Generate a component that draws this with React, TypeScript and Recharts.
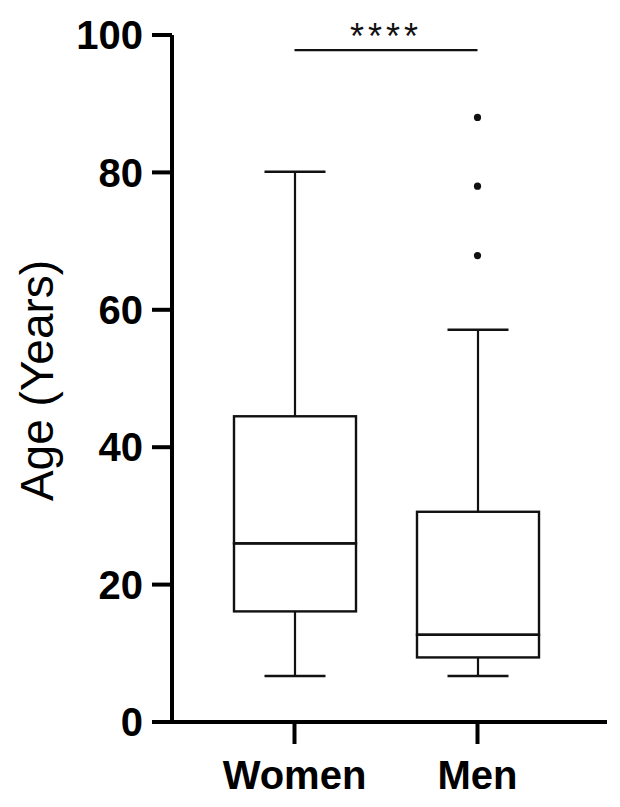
import React from "react";
import {
  ComposedChart,
  Bar,
  Line,
  XAxis,
  YAxis,
  ReferenceLine,
  Label,
} from "recharts";

const groups = ["Women", "Men"];
const mins = [6.7, 6.7];
const q1s = [16.1, 9.4];
const medians = [26.0, 12.7];
const q3s = [44.5, 30.6];
const maxs = [80.1, 57.1];
const menOutliers = [67.9, 78.0, 88.0];
const yTicks = [0, 20, 40, 60, 80, 100];
const sigLevel = 97.8;
const sigText = "****";

const FONT = "'Liberation Sans', Arial, sans-serif";

// stacked segments: base (hidden) -> lower whisker -> lower box -> upper box -> upper whisker
const rows = groups.map((g, i) => ({
  group: g,
  base: mins[i],
  lowWhisker: q1s[i] - mins[i],
  lowBox: medians[i] - q1s[i],
  highBox: q3s[i] - medians[i],
  highWhisker: maxs[i] - q3s[i],
  out0: g === "Men" ? menOutliers[0] : null,
  out1: g === "Men" ? menOutliers[1] : null,
  out2: g === "Men" ? menOutliers[2] : null,
}));

const LowWhisker = (p: any) => {
  const { x, y, width, height } = p;
  const cx = x + width / 2;
  const half = width / 4;
  return (
    <g>
      <line x1={cx} x2={cx} y1={y} y2={y + height} stroke="#111" strokeWidth={2.2} />
      <line x1={cx - half} x2={cx + half} y1={y + height} y2={y + height} stroke="#111" strokeWidth={2.6} />
    </g>
  );
};

const HighWhisker = (p: any) => {
  const { x, y, width, height } = p;
  const cx = x + width / 2;
  const half = width / 4;
  return (
    <g>
      <line x1={cx} x2={cx} y1={y} y2={y + height} stroke="#111" strokeWidth={2.2} />
      <line x1={cx - half} x2={cx + half} y1={y} y2={y} stroke="#111" strokeWidth={2.6} />
    </g>
  );
};

const BoxPart = (p: any) => {
  const { x, y, width, height } = p;
  return <rect x={x} y={y} width={width} height={height} fill="none" stroke="#111" strokeWidth={2.4} />;
};

const outlierDot = (props: any) => {
  const { value, cx, cy, key } = props;
  if (value == null || cx == null || cy == null || isNaN(cy)) return <g key={key} />;
  return <circle key={key} cx={cx} cy={cy} r={3.6} fill="#111" />;
};

export default function App() {
  return (
    <div style={{ position: "absolute", left: 0, top: 0, width: 620, height: 807, background: "#fff" }}>
      <ComposedChart
        width={620}
        height={807}
        data={rows}
        margin={{ top: 35, right: 13, bottom: 0, left: 0 }}
        barSize={122}
      >
        <XAxis
          dataKey="group"
          height={85}
          padding={{ left: 31, right: 38 }}
          tickSize={22}
          tickMargin={17}
          axisLine={{ stroke: "#000", strokeWidth: 4 }}
          tickLine={{ stroke: "#000", strokeWidth: 4 }}
          tick={{ fill: "#000", fontSize: 40, fontWeight: 700, fontFamily: FONT }}
        />
        <YAxis
          domain={[0, 100]}
          ticks={yTicks}
          width={172}
          tickSize={20}
          tickMargin={9}
          axisLine={{ stroke: "#000", strokeWidth: 4 }}
          tickLine={{ stroke: "#000", strokeWidth: 4 }}
          tick={{ fill: "#000", fontSize: 40, fontWeight: 700, fontFamily: FONT }}
        >
          <Label
            content={(props: any) => {
              const vb = props.viewBox || { x: 0, y: 35, height: 687 };
              const cx = vb.x + 37;
              const cy = vb.y + vb.height / 2 + 2;
              return (
                <text
                  x={cx}
                  y={cy}
                  transform={`rotate(-90, ${cx}, ${cy})`}
                  textAnchor="middle"
                  dominantBaseline="central"
                  fontSize={46}
                  fontFamily={FONT}
                  fill="#000"
                >
                  Age (Years)
                </text>
              );
            }}
          />
        </YAxis>
        <Bar dataKey="base" stackId="box" fill="none" shape={() => <g />} isAnimationActive={false} />
        <Bar dataKey="lowWhisker" stackId="box" shape={LowWhisker} isAnimationActive={false} />
        <Bar dataKey="lowBox" stackId="box" shape={BoxPart} isAnimationActive={false} />
        <Bar dataKey="highBox" stackId="box" shape={BoxPart} isAnimationActive={false} />
        <Bar dataKey="highWhisker" stackId="box" shape={HighWhisker} isAnimationActive={false} />
        <Line dataKey="out0" stroke="none" dot={outlierDot} activeDot={false} isAnimationActive={false} />
        <Line dataKey="out1" stroke="none" dot={outlierDot} activeDot={false} isAnimationActive={false} />
        <Line dataKey="out2" stroke="none" dot={outlierDot} activeDot={false} isAnimationActive={false} />
        <ReferenceLine
          segment={[
            { x: "Women", y: sigLevel },
            { x: "Men", y: sigLevel },
          ]}
          stroke="#111"
          strokeWidth={2.2}
          label={{
            value: sigText,
            position: "top",
            offset: 1,
            fill: "#111",
            fontSize: 36,
            fontFamily: FONT,
            letterSpacing: 4,
          }}
        />
      </ComposedChart>
    </div>
  );
}
